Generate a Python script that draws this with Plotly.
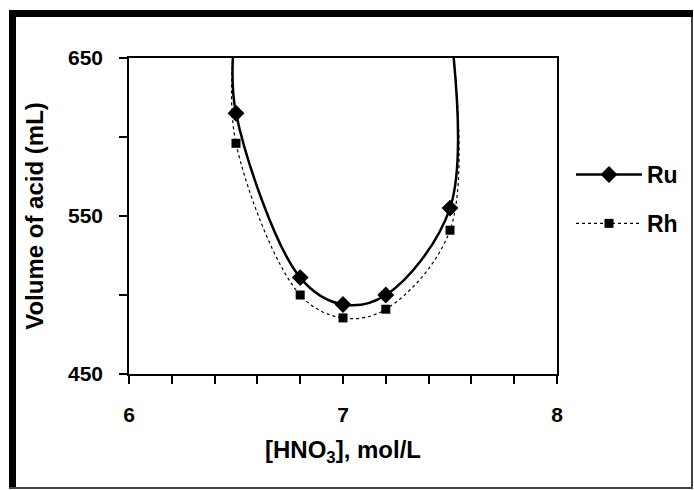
import plotly.graph_objects as go

# Data (first/last points lie just above the axis range so the curves rise off the top)
ru_x = [6.49, 6.5, 6.8, 7.0, 7.2, 7.5, 7.51]
ru_y = [660, 615, 511, 494, 500, 555, 660]
rh_x = [6.49, 6.5, 6.8, 7.0, 7.2, 7.5, 7.51]
rh_y = [660, 596, 500, 485.5, 491, 541, 660]

x_tickvals = [6, 6.2, 6.4, 6.6, 6.8, 7, 7.2, 7.4, 7.6, 7.8, 8]
x_ticktext = ["<b>6</b>", "", "", "", "", "<b>7</b>", "", "", "", "", "<b>8</b>"]
y_tickvals = [450, 500, 550, 600, 650]
y_ticktext = ["<b>450</b>", "", "<b>550</b>", "", "<b>650</b>"]

W, H = 694, 490
PL, PR, PT, PB = 129, 557, 58, 374  # plot area in pixels

def px(x):
    return (x - PL) / (PR - PL)

def py(y):
    return (PB - y) / (PB - PT)

FONT = "Liberation Sans, Arial, sans-serif"

fig = go.Figure()
fig.add_trace(go.Scatter(
    x=ru_x, y=ru_y, name="<b>Ru</b>", mode="lines+markers",
    line=dict(color="black", width=2.5, shape="spline", smoothing=1),
    marker=dict(symbol="diamond", size=13, color="black"),
    legendgroup="ru",
))
fig.add_trace(go.Scatter(
    x=rh_x, y=rh_y, name="<b>Rh</b>", mode="lines+markers",
    line=dict(color="black", width=1.2, dash="dot", shape="spline", smoothing=1),
    marker=dict(symbol="square", size=9, color="black"),
    legendgroup="rh",
))

shapes = [
    # thick top & left border
    dict(type="rect", xref="paper", yref="paper", x0=px(9), x1=px(693), y0=py(17), y1=py(10),
         fillcolor="black", line=dict(width=0), layer="above"),
    dict(type="rect", xref="paper", yref="paper", x0=px(9), x1=px(16), y0=py(489), y1=py(10),
         fillcolor="black", line=dict(width=0), layer="above"),
    # thin right & bottom border
    dict(type="rect", xref="paper", yref="paper", x0=px(691), x1=px(693), y0=py(489), y1=py(17),
         fillcolor="#444444", line=dict(width=0), layer="above"),
    dict(type="rect", xref="paper", yref="paper", x0=px(9), x1=px(693), y0=py(489), y1=py(487),
         fillcolor="#444444", line=dict(width=0), layer="above"),
]

fig.update_layout(
    width=W, height=H,
    margin=dict(l=PL, r=W - PR, t=PT, b=H - PB, autoexpand=False),
    paper_bgcolor="white", plot_bgcolor="white",
    font=dict(family=FONT, color="black", size=21),
    shapes=shapes,
    showlegend=True,
    legend=dict(x=px(571), y=py(153), xanchor="left", yanchor="top",
                bgcolor="rgba(0,0,0,0)", tracegroupgap=16, itemwidth=66,
                font=dict(family=FONT, size=23, color="black")),
    xaxis=dict(
        range=[6, 8], tickvals=x_tickvals, ticktext=x_ticktext,
        showline=True, linecolor="black", linewidth=1.5, mirror=True,
        ticks="outside", ticklen=8, tickwidth=1.5, tickcolor="black",
        showgrid=False, zeroline=False, ticklabelstandoff=13,
        tickfont=dict(family=FONT, size=21, color="black"),
        title=dict(text="<b>[HNO<sub>3</sub>], mol/L</b>", standoff=16,
                   font=dict(family=FONT, size=24, color="black")),
    ),
    yaxis=dict(
        range=[450, 650], tickvals=y_tickvals, ticktext=y_ticktext,
        showline=True, linecolor="black", linewidth=1.5, mirror=True,
        ticks="outside", ticklen=8, tickwidth=1.5, tickcolor="black",
        showgrid=False, zeroline=False, ticklabelstandoff=12,
        tickfont=dict(family=FONT, size=21, color="black"),
        title=dict(text="<b>Volume of acid (mL)</b>", standoff=18,
                   font=dict(family=FONT, size=24, color="black")),
    ),
)

fig.write_html("out.html")
